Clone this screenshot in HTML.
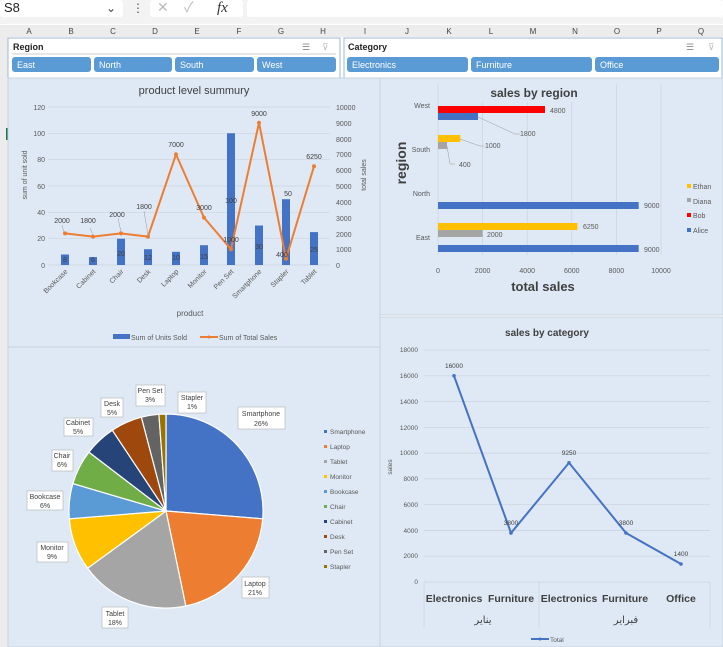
<!DOCTYPE html>
<html><head><meta charset="utf-8"><style>
html,body{margin:0;padding:0;background:#fff;}
svg{display:block;font-family:"Liberation Sans","Noto Sans CJK SC",sans-serif;}
</style></head><body>
<svg width="723" height="647" viewBox="0 0 723 647" xmlns="http://www.w3.org/2000/svg">
<!-- formula bar -->
<rect x="0" y="0" width="723" height="24" fill="#f3f3f3"/>
<rect x="0" y="0" width="123" height="17" rx="3" fill="#fff"/>
<text x="4" y="12" font-size="13" fill="#222">S8</text>
<text x="106" y="12" font-size="12" fill="#444">⌄</text>
<text x="132" y="12" font-size="12" fill="#555">⋮</text>
<rect x="150" y="0" width="93" height="17" rx="3" fill="#fff"/>
<text x="157" y="12" font-size="14" fill="#bbb">✕</text>
<text x="184" y="12" font-size="14" fill="#bbb">✓</text>
<text x="217" y="12" font-size="15" font-style="italic" font-family="Liberation Serif,serif" fill="#333">fx</text>
<rect x="247" y="0" width="476" height="17" rx="3" fill="#fff"/>
<!-- column headers -->
<rect x="0" y="25" width="723" height="12" fill="#ececec"/>
<g font-size="8" fill="#444" text-anchor="middle">
<text x="29" y="34">A</text><text x="71" y="34">B</text><text x="113" y="34">C</text><text x="155" y="34">D</text><text x="197" y="34">E</text><text x="239" y="34">F</text><text x="281" y="34">G</text><text x="323" y="34">H</text><text x="365" y="34">I</text><text x="407" y="34">J</text><text x="449" y="34">K</text><text x="491" y="34">L</text><text x="533" y="34">M</text><text x="575" y="34">N</text><text x="617" y="34">O</text><text x="659" y="34">P</text><text x="701" y="34">Q</text>
</g>
<rect x="0" y="37" width="8" height="610" fill="#ececec"/>
<rect x="6" y="128" width="2" height="12" fill="#217346"/>
<!-- slicers -->
<rect x="8" y="38" width="332" height="40" fill="#fff" stroke="#9db7d5"/>
<text x="13" y="50" font-size="9" font-weight="bold" fill="#222">Region</text>
<text x="302" y="50" font-size="9" fill="#888">☰</text><text x="322" y="50" font-size="9" fill="#bbb">⊽</text>
<line x1="12" y1="54" x2="336" y2="54" stroke="#ccc"/>
<g fill="#5b9bd5"><rect x="12" y="57" width="79" height="15" rx="3"/><rect x="94" y="57" width="78" height="15" rx="3"/><rect x="175" y="57" width="79" height="15" rx="3"/><rect x="257" y="57" width="79" height="15" rx="3"/>
<rect x="347" y="57" width="121" height="15" rx="3"/><rect x="471" y="57" width="121" height="15" rx="3"/><rect x="595" y="57" width="124" height="15" rx="3"/></g>
<g font-size="9" fill="#fff"><text x="17" y="68">East</text><text x="99" y="68">North</text><text x="180" y="68">South</text><text x="262" y="68">West</text><text x="352" y="68">Electronics</text><text x="476" y="68">Furniture</text><text x="600" y="68">Office</text></g>
<rect x="344" y="38" width="378" height="40" fill="none" stroke="#9db7d5"/>
<rect x="345" y="39" width="376" height="15" fill="#fff"/>
<text x="348" y="50" font-size="9" font-weight="bold" fill="#222">Category</text>
<text x="686" y="50" font-size="9" fill="#888">☰</text><text x="708" y="50" font-size="9" fill="#bbb">⊽</text>

<!-- chart backgrounds -->
<rect x="8" y="78" width="372" height="269" fill="#dfe9f5" stroke="#c8d3df"/>
<rect x="380" y="78" width="343" height="237" fill="#dfe9f5" stroke="#c8d3df"/>
<rect x="8" y="347" width="372" height="300" fill="#dfe9f5" stroke="#c8d3df"/>
<rect x="380" y="317" width="343" height="330" fill="#dfe9f5" stroke="#c8d3df"/>

<!-- Chart 1 -->
<text x="194" y="94" font-size="11" fill="#404040" text-anchor="middle">product level summury</text>
<g stroke="#c9d3de" stroke-width="0.7">
<line x1="48" y1="107" x2="330" y2="107"/><line x1="48" y1="133.3" x2="330" y2="133.3"/><line x1="48" y1="159.7" x2="330" y2="159.7"/><line x1="48" y1="186" x2="330" y2="186"/><line x1="48" y1="212.3" x2="330" y2="212.3"/><line x1="48" y1="238.7" x2="330" y2="238.7"/><line x1="48" y1="265" x2="330" y2="265"/>
</g>
<g font-size="7" fill="#595959" text-anchor="end">
<text x="45" y="110">120</text><text x="45" y="136">100</text><text x="45" y="162">80</text><text x="45" y="189">60</text><text x="45" y="215">40</text><text x="45" y="241">20</text><text x="45" y="268">0</text></g>
<g font-size="7" fill="#595959">
<text x="336" y="110">10000</text><text x="336" y="126">9000</text><text x="336" y="142">8000</text><text x="336" y="157">7000</text><text x="336" y="173">6000</text><text x="336" y="189">5000</text><text x="336" y="205">4000</text><text x="336" y="221">3000</text><text x="336" y="237">2000</text><text x="336" y="252">1000</text><text x="336" y="268">0</text></g>
<text transform="translate(27,175) rotate(-90)" font-size="7" fill="#595959" text-anchor="middle">sum of unit sold</text>
<text transform="translate(366,175) rotate(-90)" font-size="7" fill="#595959" text-anchor="middle">total sales</text>
<g fill="#4472c4">
<rect x="61" y="254.5" width="8" height="10.5"/><rect x="89" y="257.1" width="8" height="7.9"/><rect x="117" y="238.7" width="8" height="26.3"/><rect x="144" y="249.2" width="8" height="15.8"/><rect x="172" y="251.8" width="8" height="13.2"/><rect x="200" y="245.2" width="8" height="19.8"/><rect x="227" y="133.3" width="8" height="131.7"/><rect x="255" y="225.5" width="8" height="39.5"/><rect x="282" y="199.2" width="8" height="65.8"/><rect x="310" y="232.1" width="8" height="32.9"/></g>
<g font-size="7" fill="#404040" text-anchor="middle">
<text x="65" y="262">8</text><text x="93" y="262">6</text><text x="121" y="256">20</text><text x="148" y="260">12</text><text x="176" y="260">10</text><text x="204" y="259">15</text><text x="231" y="203">100</text><text x="259" y="249">30</text><text x="288" y="196">50</text><text x="314" y="252">25</text></g>
<polyline fill="none" stroke="#ed7d31" stroke-width="2" points="65,233.4 93,236.6 121,233.4 148,236.6 176,154.4 204,217.6 231,249.2 259,122.8 286,258.7 314,166.3"/>
<g fill="#ed7d31"><circle cx="65" cy="233.4" r="2"/><circle cx="93" cy="236.6" r="2"/><circle cx="121" cy="233.4" r="2"/><circle cx="148" cy="236.6" r="2"/><circle cx="176" cy="154.4" r="2"/><circle cx="204" cy="217.6" r="2"/><circle cx="231" cy="249.2" r="2"/><circle cx="259" cy="122.8" r="2"/><circle cx="286" cy="258.7" r="2"/><circle cx="314" cy="166.3" r="2"/></g>
<g stroke="#999" stroke-width="0.5"><line x1="62" y1="225" x2="64" y2="232"/><line x1="90" y1="228" x2="93" y2="235"/><line x1="118" y1="218" x2="121" y2="232"/><line x1="144" y1="211" x2="148" y2="235"/></g>
<g font-size="7" fill="#404040" text-anchor="middle">
<text x="62" y="223">2000</text><text x="88" y="223">1800</text><text x="117" y="217">2000</text><text x="144" y="209">1800</text><text x="176" y="147">7000</text><text x="204" y="210">3000</text><text x="231" y="242">1000</text><text x="259" y="116">9000</text><text x="282" y="257">400</text><text x="314" y="159">6250</text></g>
<g font-size="7" fill="#595959" text-anchor="end">
<text transform="translate(68,272) rotate(-45)">Bookcase</text><text transform="translate(96,272) rotate(-45)">Cabinet</text><text transform="translate(124,272) rotate(-45)">Chair</text><text transform="translate(151,272) rotate(-45)">Desk</text><text transform="translate(179,272) rotate(-45)">Laptop</text><text transform="translate(207,272) rotate(-45)">Monitor</text><text transform="translate(234,272) rotate(-45)">Pen Set</text><text transform="translate(262,272) rotate(-45)">Smartphone</text><text transform="translate(289,272) rotate(-45)">Stapler</text><text transform="translate(317,272) rotate(-45)">Tablet</text></g>
<text x="190" y="316" font-size="8" fill="#595959" text-anchor="middle">product</text>
<rect x="113" y="334" width="17" height="5" fill="#4472c4"/>
<text x="131" y="340" font-size="7" fill="#595959">Sum of Units Sold</text>
<line x1="200" y1="337" x2="218" y2="337" stroke="#ed7d31" stroke-width="2"/><circle cx="209" cy="337" r="1.5" fill="#ed7d31"/>
<text x="219" y="340" font-size="7" fill="#595959">Sum of Total Sales</text>

<!-- Chart 2 -->
<g stroke="#c9d3de" stroke-width="0.7">
<line x1="438" y1="84" x2="438" y2="255"/><line x1="482.6" y1="84" x2="482.6" y2="255"/><line x1="527.2" y1="84" x2="527.2" y2="255"/><line x1="571.8" y1="84" x2="571.8" y2="255"/><line x1="616.4" y1="84" x2="616.4" y2="255"/><line x1="661" y1="84" x2="661" y2="255"/></g>
<rect x="480" y="84" width="110" height="18" fill="#dfe9f5"/>
<text x="534" y="97" font-size="12" font-weight="bold" fill="#404040" text-anchor="middle">sales by region</text>
<rect x="438" y="106" width="107" height="7" fill="#ff0000"/>
<rect x="438" y="113" width="40" height="7" fill="#4472c4"/>
<rect x="438" y="135" width="22.3" height="7" fill="#ffc000"/>
<rect x="438" y="142" width="9" height="7" fill="#a5a5a5"/>
<rect x="438" y="202" width="200.7" height="7" fill="#4472c4"/>
<rect x="438" y="223" width="139.4" height="7" fill="#ffc000"/>
<rect x="438" y="230" width="44.6" height="7" fill="#a5a5a5"/>
<rect x="438" y="245" width="200.7" height="7" fill="#4472c4"/>
<g stroke="#999" stroke-width="0.5" fill="none"><polyline points="478,117 515,134 520,134"/><polyline points="460,139 480,146 484,146"/><polyline points="447,146 450,164 455,164"/></g>
<g font-size="7" fill="#595959">
<text x="550" y="113">4800</text><text x="520" y="136">1800</text><text x="485" y="148">1000</text><text x="459" y="167">400</text><text x="644" y="208">9000</text><text x="583" y="229">6250</text><text x="487" y="237">2000</text><text x="644" y="252">9000</text></g>
<g font-size="7" fill="#595959" text-anchor="end"><text x="430" y="108">West</text><text x="430" y="152">South</text><text x="430" y="196">North</text><text x="430" y="240">East</text></g>
<text transform="translate(406,163) rotate(-90)" font-size="14" font-weight="bold" fill="#404040" text-anchor="middle">region</text>
<g font-size="7" fill="#595959" text-anchor="middle"><text x="438" y="273">0</text><text x="482.6" y="273">2000</text><text x="527.2" y="273">4000</text><text x="571.8" y="273">6000</text><text x="616.4" y="273">8000</text><text x="661" y="273">10000</text></g>
<text x="543" y="291" font-size="13" font-weight="bold" fill="#404040" text-anchor="middle">total sales</text>
<rect x="687" y="184" width="4" height="4" fill="#ffc000"/><text x="693" y="189" font-size="7" fill="#595959">Ethan</text>
<rect x="687" y="198" width="4" height="4" fill="#a5a5a5"/><text x="693" y="204" font-size="7" fill="#595959">Diana</text>
<rect x="687" y="213" width="4" height="4" fill="#ff0000"/><text x="693" y="218" font-size="7" fill="#595959">Bob</text>
<rect x="687" y="228" width="4" height="4" fill="#4472c4"/><text x="693" y="233" font-size="7" fill="#595959">Alice</text>

<!-- Chart 3 pie -->
<g stroke="#fff" stroke-width="1.2">
<path d="M166,511 L166,414 A97,97 0 0 1 262.7,518.8 Z" fill="#4472c4"/>
<path d="M166,511 L262.7,518.8 A97,97 0 0 1 185.8,606 Z" fill="#ed7d31"/>
<path d="M166,511 L185.8,606 A97,97 0 0 1 87.6,568.2 Z" fill="#a5a5a5"/>
<path d="M166,511 L87.6,568.2 A97,97 0 0 1 69.3,518.8 Z" fill="#ffc000"/>
<path d="M166,511 L69.3,518.8 A97,97 0 0 1 72.9,483.6 Z" fill="#5b9bd5"/>
<path d="M166,511 L72.9,483.6 A97,97 0 0 1 88.9,452.1 Z" fill="#70ad47"/>
<path d="M166,511 L88.9,452.1 A97,97 0 0 1 112.3,430.2 Z" fill="#264478"/>
<path d="M166,511 L112.3,430.2 A97,97 0 0 1 141.4,417.2 Z" fill="#9e480e"/>
<path d="M166,511 L141.4,417.2 A97,97 0 0 1 158.9,414.3 Z" fill="#636363"/>
<path d="M166,511 L158.9,414.3 A97,97 0 0 1 166,414 Z" fill="#997300"/>
</g>
<g fill="#fff" stroke="#b0b0b0" stroke-width="0.6">
<rect x="238" y="407" width="47" height="22"/><rect x="242" y="577" width="27" height="21"/><rect x="102" y="607" width="26" height="21"/><rect x="37" y="542" width="31" height="20"/><rect x="27" y="491" width="36" height="19"/><rect x="52" y="450" width="21" height="21"/><rect x="64" y="418" width="29" height="18"/><rect x="101" y="398" width="22" height="19"/><rect x="136" y="385" width="29" height="21"/><rect x="178" y="392" width="28" height="21"/></g>
<g font-size="7" fill="#404040" text-anchor="middle">
<text x="261" y="416">Smartphone</text><text x="261" y="426">26%</text>
<text x="255" y="586">Laptop</text><text x="255" y="595">21%</text>
<text x="115" y="616">Tablet</text><text x="115" y="625">18%</text>
<text x="52" y="550">Monitor</text><text x="52" y="559">9%</text>
<text x="45" y="499">Bookcase</text><text x="45" y="508">6%</text>
<text x="62" y="458">Chair</text><text x="62" y="467">6%</text>
<text x="78" y="425">Cabinet</text><text x="78" y="434">5%</text>
<text x="112" y="406">Desk</text><text x="112" y="415">5%</text>
<text x="150" y="393">Pen Set</text><text x="150" y="402">3%</text>
<text x="192" y="400">Stapler</text><text x="192" y="409">1%</text></g>
<g font-size="6.5" fill="#595959">
<rect x="324" y="430" width="3" height="3" fill="#4472c4"/><text x="330" y="434">Smartphone</text>
<rect x="324" y="445" width="3" height="3" fill="#ed7d31"/><text x="330" y="449">Laptop</text>
<rect x="324" y="460" width="3" height="3" fill="#a5a5a5"/><text x="330" y="464">Tablet</text>
<rect x="324" y="475" width="3" height="3" fill="#ffc000"/><text x="330" y="479">Monitor</text>
<rect x="324" y="490" width="3" height="3" fill="#5b9bd5"/><text x="330" y="494">Bookcase</text>
<rect x="324" y="505" width="3" height="3" fill="#70ad47"/><text x="330" y="509">Chair</text>
<rect x="324" y="520" width="3" height="3" fill="#264478"/><text x="330" y="524">Cabinet</text>
<rect x="324" y="535" width="3" height="3" fill="#9e480e"/><text x="330" y="539">Desk</text>
<rect x="324" y="550" width="3" height="3" fill="#636363"/><text x="330" y="554">Pen Set</text>
<rect x="324" y="565" width="3" height="3" fill="#997300"/><text x="330" y="569">Stapler</text></g>

<!-- Chart 4 -->
<text x="547" y="336" font-size="10" font-weight="bold" fill="#404040" text-anchor="middle">sales by category</text>
<g stroke="#c9d3de" stroke-width="0.7">
<line x1="424" y1="350" x2="710" y2="350"/><line x1="424" y1="375.8" x2="710" y2="375.8"/><line x1="424" y1="401.6" x2="710" y2="401.6"/><line x1="424" y1="427.3" x2="710" y2="427.3"/><line x1="424" y1="453.1" x2="710" y2="453.1"/><line x1="424" y1="478.9" x2="710" y2="478.9"/><line x1="424" y1="504.7" x2="710" y2="504.7"/><line x1="424" y1="530.4" x2="710" y2="530.4"/><line x1="424" y1="556.2" x2="710" y2="556.2"/><line x1="424" y1="582" x2="710" y2="582"/>
<line x1="424" y1="582" x2="424" y2="628"/><line x1="539" y1="582" x2="539" y2="628"/><line x1="710" y1="582" x2="710" y2="628"/></g>
<g font-size="6.5" fill="#595959" text-anchor="end">
<text x="418" y="352">18000</text><text x="418" y="378">16000</text><text x="418" y="404">14000</text><text x="418" y="430">12000</text><text x="418" y="455">10000</text><text x="418" y="481">8000</text><text x="418" y="507">6000</text><text x="418" y="533">4000</text><text x="418" y="558">2000</text><text x="418" y="584">0</text></g>
<text transform="translate(392,467) rotate(-90)" font-size="6.5" fill="#595959" text-anchor="middle">sales</text>
<polyline fill="none" stroke="#4472c4" stroke-width="2" points="454,375.8 511,533 569,462.8 626,533 681,564"/>
<g fill="#4472c4"><circle cx="454" cy="375.8" r="1.8"/><circle cx="511" cy="533" r="1.8"/><circle cx="569" cy="462.8" r="1.8"/><circle cx="626" cy="533" r="1.8"/><circle cx="681" cy="564" r="1.8"/></g>
<g font-size="6.5" fill="#404040" text-anchor="middle"><text x="454" y="368">16000</text><text x="511" y="525">3800</text><text x="569" y="455">9250</text><text x="626" y="525">3800</text><text x="681" y="556">1400</text></g>
<g font-size="10.5" font-weight="bold" fill="#404040" text-anchor="middle"><text x="454" y="602">Electronics</text><text x="511" y="602">Furniture</text><text x="569" y="602">Electronics</text><text x="625" y="602">Furniture</text><text x="681" y="602">Office</text></g>
<g font-family="'DejaVu Sans',sans-serif" font-size="10" fill="#404040" text-anchor="middle"><text x="483" y="623">يناير</text><text x="626" y="623">فبراير</text></g>
<line x1="531" y1="639" x2="549" y2="639" stroke="#4472c4" stroke-width="2"/><circle cx="540" cy="639" r="1.5" fill="#4472c4"/>
<text x="550" y="642" font-size="6.5" fill="#595959">Total</text>
</svg>
</body></html>
